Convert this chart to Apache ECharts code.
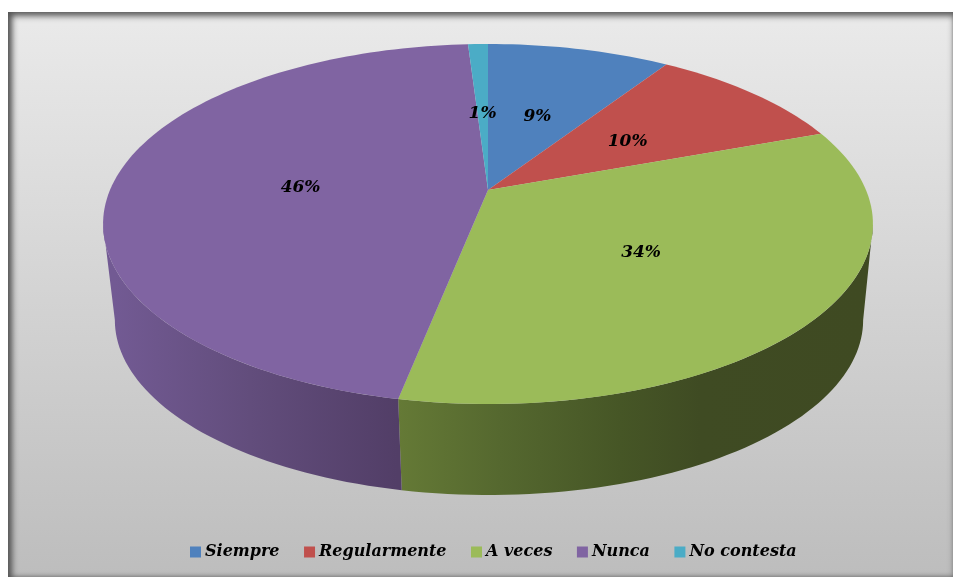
<!DOCTYPE html>
<html>
<head>
<meta charset="utf-8">
<script src="https://cdn.jsdelivr.net/npm/echarts@6/dist/echarts.min.js"></script>
<style>
html, body { margin: 0; padding: 0; background: #fff; }
#frame {
	position: absolute; left: 8px; top: 12px; width: 945px; height: 565px;
	background: linear-gradient(to bottom, #eaeaea, #bdbdbd);
	box-shadow: inset 5px 0 6px -1px #555, inset 0 5px 6px -1px #666, inset -1px 0 2px -1px #bbb, inset 0 -2px 3px -1px #aaa;
}
#chart { position: absolute; left: 0; top: 0; width: 953px; height: 577px; }
</style>
</head>
<body>
<div id="frame"></div>
<div id="chart"></div>
<script>
const categories = ["Siempre", "Regularmente", "A veces", "Nunca", "No contesta"]
const values = [9.2, 10.2, 33.7, 45.9, 1.0]
const topColors = ["#4f81bd", "#c0504d", "#9bbb59", "#8064a2", "#4bacc6"]

// apex of the slices and the tilt of the disc
const cx = 488, cy = 190, a = 378, b = 173.6, k = 0.1889
const depth = 97, shrink = 0.972
const labelFont = "italic bold 17px 'DejaVu Serif'"

// side walls are shaded left to right, only purple and green are visible
const wallStops = {
	"Nunca": [[115, "#725a93"], [250, "#624d7c"], [397, "#523e67"]],
	"A veces": [[397, "#657a36"], [500, "#55682f"], [620, "#465626"], [700, "#3f4b23"], [865, "#3f4a22"]]
}

const total = values.reduce((s, v) => s + v, 0)

const rim = (deg, r, bottom) => {
	const t = deg * Math.PI / 180
	const s = Math.sin(t), c = Math.cos(t)
	const w = 1 + k * r * c
	const x = a * r * s / w, y = -b * r * c / w
	if (bottom) {
		return [cx + 1 + x * shrink, cy + depth + y * shrink]
	}
	return [cx + x, cy + y]
}

const arc = (from, to, bottom) => {
	const pts = []
	const n = Math.max(2, Math.ceil(Math.abs(to - from) / 1.5))
	for (let i = 0; i <= n; i++) {
		pts.push(rim(from + (to - from) * i / n, 1, bottom))
	}
	return pts
}

const sideAngle = Math.acos(-k) * 180 / Math.PI

const renderSlice = (index) => (params, api) => {
	const start = values.slice(0, index).reduce((s, v) => s + v, 0) / total * 360
	const end = start + api.value(0) / total * 360
	const mid = (start + end) / 2
	const children = []

	const wallFrom = Math.max(start, sideAngle)
	const wallTo = Math.min(end, 360 - sideAngle)
	if (wallTo > wallFrom) {
		const stops = wallStops[categories[index]]
		const x0 = stops[0][0], x1 = stops[stops.length - 1][0]
		children.push({
			type: "polygon",
			shape: { points: arc(wallFrom, wallTo, false).concat(arc(wallTo, wallFrom, true)) },
			style: {
				fill: new echarts.graphic.LinearGradient(x0, 0, x1, 0, stops.map(st => ({
					offset: (st[0] - x0) / (x1 - x0),
					color: st[1]
				})), true)
			},
			z2: 1
		})
	}

	children.push({
		type: "polygon",
		shape: { points: [[cx, cy]].concat(arc(start, end, false)) },
		style: { fill: topColors[index] },
		z2: 2
	})

	const pos = rim(mid, 0.5, false)
	children.push({
		type: "text",
		style: {
			text: Math.round(api.value(0) / total * 100) + "%",
			x: pos[0],
			y: pos[1] + 3,
			align: "center",
			verticalAlign: "middle",
			font: labelFont,
			fill: "#000"
		},
		z2: 50
	})
	return { type: "group", children }
}

const chart = echarts.init(document.getElementById("chart"))
chart.setOption({
	backgroundColor: "transparent",
	animation: false,
	color: topColors,
	legend: {
		left: 190,
		top: 544,
		padding: 0,
		icon: "rect",
		itemWidth: 11,
		itemHeight: 11,
		itemGap: 24.5,
		data: categories,
		textStyle: {
			color: "#000",
			fontFamily: "DejaVu Serif",
			fontStyle: "italic",
			fontWeight: "bold",
			fontSize: 16,
			padding: [0, 0, 0, -1]
		}
	},
	series: categories.map((name, i) => ({
		type: "custom",
		name,
		coordinateSystem: "none",
		silent: true,
		itemStyle: { color: topColors[i] },
		renderItem: renderSlice(i),
		data: [[values[i]]]
	}))
})
</script>
</body>
</html>
